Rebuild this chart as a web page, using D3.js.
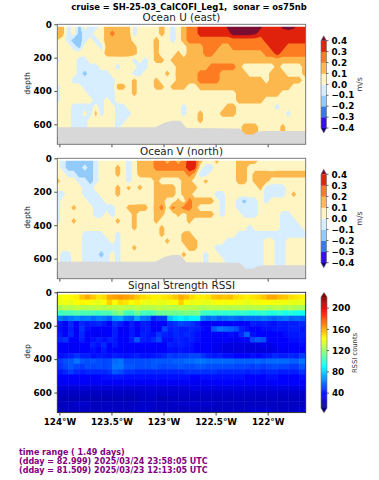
<!DOCTYPE html>
<html><head><meta charset="utf-8">
<script src="https://cdn.jsdelivr.net/npm/d3@7"></script>
<style>html,body{margin:0;padding:0;background:#fff}svg{display:block}text{font-family:"DejaVu Sans",sans-serif}</style>
</head><body><svg id="c" width="379" height="480"></svg>
<script>
const figureTitle = "cruise = SH-25-03_CalCOFI_Leg1,  sonar = os75nb";
const panelTitles = ["Ocean U (east)", "Ocean V (north)", "Signal Strength RSSI"];
const depthLabels = ["depth", "depth", "dep"];
const footer = ["time range ( 1.49 days)", "(dday = 82.999) 2025/03/24 23:58:05 UTC", "(dday = 81.509) 2025/03/23 12:13:05 UTC"];
const lonTicks = [-124, -123.5, -123, -122.5, -122];
const lonTickLabels = ["124°W", "123.5°W", "123°W", "122.5°W", "122°W"];
const depthTicks = [0, 200, 400, 600];
const velTicks = [0.4, 0.3, 0.2, 0.1, 0, -0.1, -0.2, -0.3, -0.4];
const rssiTicks = [200, 160, 120, 80, 40];
const velLevels = [-40, -30, -20, -10, 0, 10, 20, 30, 40];
const velColors = ["#14007f", "#3a0ef0", "#3a78f2", "#92caf9", "#d6eeff", "#fff5c2", "#fdb84e", "#fd7b22", "#e0240f", "#7a0a30"];
const lonStart = -124.02, lonStep = 0.0528, lonCount = 46;
const velDepths = [15,55,95,135,175,215,255,295,335,375,415,455,495,535,575,615,655];
const bathyLon = [-124.02,-123.08,-122.99,-122.92,-122.84,-122.78,-122.27,-122.21,-122.14,-122.10,-122.03,-121.62];
const bathyDepth = [618,618,590,578,578,622,625,661,661,645,640,640];
const oceanU = [
[15,14,-5,5,-14,5,-5,-5,5,15, 15,14,14,14,-5,5,5,5,5,15, 5,-5,5,15,25,25,35,35,35,35, 35,42,45,45,45,45,45,42,35,35, 35,42,45,42,35,35],
[15,14,-5,5,-15,-5,-5,5,5,15, 25,15,15,15,-5,5,5,5,5,15, 5,-5,5,15,25,25,35,35,35,35, 35,35,45,45,45,45,42,35,35,35, 35,35,35,35,35,35],
[10,5,-5,-15,-15,-5,5,-5,5,15, 15,15,15,15,5,5,5,5,15,5, 5,-5,5,15,25,25,25,25,25,25, 25,25,25,25,25,25,25,25,35,35, 35,35,35,35,35,35],
[5,5,5,-5,-14,5,5,5,-5,14, 15,15,15,15,14,5,5,5,15,5, 5,5,5,5,15,15,15,25,25,25, 15,15,25,25,25,25,25,25,25,35, 35,35,25,25,25,25],
[5,5,5,5,5,5,5,5,5,14, 14,15,15,14,15,5,5,5,14,5, 5,5,14,5,15,15,15,25,25,15, 15,15,15,15,15,15,15,15,25,25, 35,25,25,25,25,25],
[-5,5,5,5,-5,-5,5,5,5,5, 5,5,5,5,-5,5,-5,5,14,14, 5,14,14,14,15,15,15,15,15,15, 15,15,15,15,15,15,15,15,15,15, 15,15,15,15,15,15],
[5,5,5,5,-5,-5,-5,-5,5,5, 5,-5,5,5,5,-5,-5,5,5,5, 5,5,14,15,15,15,15,15,25,25, 25,25,25,15,5,5,5,5,5,5, 15,5,5,5,5,15],
[5,5,5,5,-5,-14,-5,-5,-5,-5, 5,5,5,5,-5,-5,5,5,5,5, 14,5,15,15,15,15,25,25,25,25, 15,15,15,15,15,5,5,5,5,15, 15,15,5,5,5,15],
[5,5,5,-5,-5,-5,-5,-5,-5,-5, -5,5,5,5,14,5,5,5,14,5, 5,5,14,15,15,15,25,25,25,25, 15,15,15,15,15,15,15,15,5,15, 15,15,15,15,15,5],
[-5,5,5,5,5,-5,-5,-5,-5,-5, -5,14,14,5,14,5,5,5,14,14, 5,14,14,14,5,5,15,15,15,15, 15,15,15,15,15,15,15,15,15,15, 15,15,15,5,5,5],
[-5,5,5,5,5,5,-5,-5,-5,-5, -5,5,5,5,14,5,5,5,5,5, 5,5,5,5,5,5,5,5,5,5, 5,5,5,15,15,15,15,15,15,15, 15,5,5,5,5,5],
[-5,5,5,5,5,5,5,-5,-5,5, -5,5,5,5,5,5,5,5,5,5, 5,5,5,5,5,5,5,5,5,5, 5,5,5,15,15,15,15,15,5,5, 5,5,5,5,5,5],
[5,5,5,-5,-5,-5,-5,5,-5,5, 5,-5,-5,5,5,5,5,5,5,5, 5,5,5,-5,5,5,5,5,5,5, 5,15,15,5,5,5,5,5,5,5, -5,5,5,5,5,5],
[5,5,5,-5,-5,5,-5,14,-5,5, 5,-5,-5,-5,5,5,5,5,5,5, 5,5,5,-5,5,5,15,5,5,5, 15,15,15,5,5,5,5,5,5,5, 5,5,-5,5,5,5],
[5,5,5,-5,-5,-5,5,5,5,5, 5,-5,-5,5,5,5,5,5,5,5, 5,5,5,5,5,5,15,5,5,5, 5,5,5,5,5,5,5,5,5,5, 5,5,5,5,5,5],
[5,5,5,-5,-5,-5,5,5,5,5, 5,-5,5,5,5,5,5,5,5,5, 5,5,5,5,5,5,5,5,5,5, 5,5,5,5,15,15,15,5,5,5, 5,14,5,5,5,5],
[5,5,5,-5,-5,-5,5,5,5,5, 5,-5,5,5,5,5,5,5,5,5, 5,5,5,5,5,5,5,5,5,5, 5,5,5,5,15,15,15,5,5,5, 5,14,5,5,5,5]];
const oceanV = [
[5,-5,-14,-15,-15,-15,-15,-5,5,5, 5,5,5,-5,5,15,15,15,25,25, 15,25,15,25,35,35,15,5,5,14, 5,5,5,15,15,15,14,5,5,5, 5,5,5,5,5,5],
[5,-5,-15,-15,-15,-5,-15,-5,5,5, 5,14,5,-5,5,15,15,15,25,25, 25,25,25,25,38,35,5,-5,-5,5, 5,5,5,15,15,5,5,5,5,5, 5,5,5,5,5,5],
[5,5,-5,-5,-15,-15,-15,-5,5,5, 5,14,5,-5,5,14,15,15,15,15, 15,15,15,15,25,15,-5,-5,5,5, 5,5,5,15,15,5,15,15,15,14, 15,15,15,15,15,15],
[15,5,5,5,-5,-5,-15,-5,5,5, 5,5,5,-5,5,5,5,5,14,5, 5,5,5,14,14,5,5,14,5,5, 5,5,5,15,15,5,15,15,15,5, 5,5,5,5,5,5],
[5,5,5,5,5,-5,-5,5,5,5, 5,14,5,14,5,14,5,5,14,14, 15,15,5,15,15,15,5,5,5,5, 5,5,5,5,5,5,5,15,-5,-5, -5,-5,5,5,5,5],
[-5,-5,5,5,5,-5,-5,-5,5,5, 5,14,5,5,5,5,5,5,14,14, 15,15,5,14,15,5,5,5,5,-5, -5,5,5,5,5,5,5,5,-5,-5, -5,-5,5,14,5,5],
[-5,5,5,5,5,5,-5,-5,-5,5, 5,5,5,5,5,5,5,5,14,15, 5,5,14,5,25,15,15,15,15,5, -5,5,5,-5,-14,-5,-5,5,-5,5, 5,5,5,5,5,5],
[-5,5,5,14,5,5,5,-5,-5,-5, -5,5,5,14,14,15,15,5,15,25, 5,25,15,25,25,15,5,5,5,5, -5,5,5,-5,-5,-5,-5,5,5,5, 5,5,5,5,5,5],
[-5,5,5,5,5,5,5,-5,-5,5, -5,5,5,5,14,5,5,5,14,14, 5,5,14,5,15,15,15,15,15,5, -5,5,5,5,-5,-5,-5,5,5,5, 5,-5,-5,5,5,5],
[-5,5,5,14,5,5,5,5,5,5, 5,14,5,5,14,5,5,5,14,5, 5,5,5,5,14,5,5,5,5,5, 5,5,5,5,5,5,5,5,5,5, 5,-5,-5,-5,5,5],
[5,5,5,5,5,5,5,5,5,5, 5,5,5,5,14,5,5,5,5,14, 5,5,5,5,5,5,5,5,5,5, 5,5,5,5,5,-5,5,5,5,5, 5,-5,-5,-5,-5,5],
[5,5,5,5,5,-5,-5,-5,-5,5, 5,-5,5,5,5,5,5,5,5,14, 5,5,5,14,15,5,5,5,5,5, 5,5,5,-5,-5,-5,-5,-5,-5,-5, -5,-5,-5,-5,-5,-5],
[5,5,5,5,5,-5,-5,-5,-5,-5, 5,-5,5,5,5,5,5,5,5,5, 14,5,5,14,15,15,5,5,5,5, 5,-5,-5,-5,-5,-5,-5,-5,5,5, -5,-5,5,5,5,5],
[5,5,5,5,5,-5,-5,-5,-5,-5, -5,-5,5,5,14,5,5,5,5,5, 5,5,5,5,15,14,5,5,5,-5, -5,-5,-5,-5,-5,-5,-5,-5,5,5, -5,-5,5,5,5,5],
[5,-5,-5,5,5,-5,-5,-5,-15,-5, 5,-5,5,5,5,5,5,5,5,5, 5,5,5,14,5,5,5,-5,5,5, -5,-5,-5,-5,-5,-5,-5,-5,5,5, -5,-5,5,5,5,5],
[5,-5,-5,5,5,-5,-5,-5,-5,-5, 5,-5,5,5,5,5,5,5,5,5, 5,5,5,5,5,5,5,-5,5,5, 5,-5,-5,-5,-5,-5,-5,-5,5,5, -5,-5,5,5,5,5],
[5,-5,-5,5,5,-5,-5,-5,-5,-5, 5,-5,5,5,5,5,5,5,5,5, 5,5,5,5,5,5,5,-5,5,5, 5,-5,-5,-5,-5,-5,-5,-5,5,5, -5,-5,5,5,5,5]];
const rssiDepths = [16,48,80,112,144,176,208,240,272,304,336,368,400,432,464,496,528,560,592,624,656,688];
const rssi = [
[140,142,144,146,154,160,154,148,150,160,162,164,162,160,154,150,148,146,146,148,150,154,160,156,150,146,146,148,154,156,154,156,150,148,146,148,150,154,160,160,156,154,150,148,146,144],
[138,140,138,142,144,142,140,138,142,152,142,150,148,142,146,140,138,140,138,138,140,142,152,142,138,140,138,138,140,142,140,142,140,140,138,140,140,142,142,140,140,140,138,138,138,135],
[125,128,127,130,128,127,128,130,127,130,128,130,128,127,130,128,127,128,130,127,128,127,130,128,128,127,125,127,128,127,128,127,127,128,127,127,128,127,125,127,128,125,127,125,125,122],
[103,106,105,108,105,106,105,103,106,105,113,118,105,103,113,105,103,106,112,112,114,112,114,116,114,116,103,101,100,101,99,101,99,101,100,97,99,101,97,97,99,95,97,95,93,93],
[64,60,62,66,62,64,60,64,62,58,70,72,62,60,72,62,60,46,50,50,78,85,88,85,88,88,64,60,62,58,60,62,60,58,60,60,60,62,60,58,60,62,58,60,58,60],
[42,34,46,36,46,42,44,46,42,36,48,44,38,44,38,44,42,34,36,38,46,48,52,50,48,44,36,34,34,36,34,34,36,34,38,44,42,44,42,40,44,42,44,44,46,46],
[40,34,44,36,48,40,36,38,36,38,44,34,34,42,34,42,44,34,36,52,44,46,44,44,46,44,40,38,56,62,60,58,54,44,40,38,38,40,40,42,42,42,44,44,42,46],
[42,36,46,36,46,38,34,34,34,36,44,34,38,42,36,44,42,40,48,44,42,46,44,46,44,40,38,36,38,38,38,40,38,46,58,40,38,36,38,38,38,40,42,42,44,44],
[46,48,38,36,44,38,40,44,40,44,42,36,38,44,56,44,42,46,52,40,40,44,44,42,44,40,36,36,34,34,36,34,32,34,38,52,56,54,36,36,36,38,40,40,42,40],
[36,36,34,33,38,38,44,40,46,38,42,38,38,38,38,38,36,38,36,38,44,42,44,42,40,38,36,34,33,32,30,29,29,30,29,29,29,32,30,32,36,36,38,38,40,38],
[36,34,33,34,36,36,40,38,42,36,38,34,34,36,34,34,33,34,34,36,40,40,42,40,40,38,34,34,33,31,29,29,28,29,28,28,28,29,29,31,33,33,36,36,38,36],
[40,42,44,48,44,44,40,42,42,40,44,42,40,42,44,40,40,42,44,46,50,48,50,50,52,52,48,44,42,44,40,40,38,38,38,40,38,40,42,46,44,44,46,44,50,48],
[50,54,56,62,56,54,56,54,52,54,60,62,54,54,54,54,54,56,56,56,56,58,58,60,60,62,62,60,60,60,60,60,58,58,58,58,60,58,60,60,60,60,58,58,62,60],
[48,52,56,52,50,54,52,54,52,54,62,62,56,56,54,54,54,56,54,52,54,54,56,54,54,56,56,54,54,54,54,54,52,52,52,50,52,50,52,54,52,52,50,50,56,54],
[42,46,50,46,44,46,46,46,46,48,56,54,48,48,46,46,46,46,46,46,46,46,46,48,48,48,48,48,48,46,46,46,46,46,44,46,46,44,46,46,44,44,44,44,48,46],
[38,38,38,38,38,38,38,38,40,40,42,42,40,40,40,40,40,40,40,40,40,40,40,40,38,38,40,40,40,40,40,40,40,40,38,38,38,38,40,40,38,38,38,38,40,40],
[34,34,34,34,34,34,34,34,34,34,34,34,34,34,34,34,34,34,34,34,34,34,34,34,34,32,34,34,36,36,36,36,34,34,36,36,34,34,34,36,36,36,36,36,36,36],
[28,28,28,28,28,28,28,28,28,28,28,28,28,28,28,28,28,28,28,28,28,28,28,28,30,30,30,30,30,30,30,30,30,30,30,30,30,30,30,30,30,30,30,30,32,32],
[24,24,24,24,24,24,24,24,24,24,24,24,24,24,24,26,26,26,26,26,26,26,26,26,26,26,26,26,26,26,26,26,26,26,26,26,26,26,26,26,26,26,26,26,26,26],
[22,22,22,22,22,22,22,22,22,22,22,22,22,22,22,24,24,24,22,22,24,24,24,24,24,24,24,24,24,24,24,24,24,24,24,24,24,24,24,24,24,24,24,24,24,24],
[22,24,24,26,26,26,24,24,24,24,24,24,24,24,24,26,26,26,24,24,24,26,26,26,26,26,26,26,26,24,24,24,24,24,24,24,24,24,24,24,24,24,24,24,24,26],
[24,24,24,24,24,24,24,24,24,24,24,24,24,24,26,26,26,24,24,24,24,24,24,24,24,24,24,24,24,24,24,24,24,24,24,26,26,26,26,24,24,24,24,26,26,26]];

const svg = d3.select("#c");
const L = 57.3, R = 305.7;
const panels = [{top:24.3,bot:144.3},{top:158.3,bot:278.7},{top:292.3,bot:412.6}];
const x = d3.scaleLinear().domain([-124.02,-121.635]).range([L,R]);
const defs = svg.append("defs");
defs.append("filter").attr("id","soft").attr("x","-5%").attr("y","-5%").attr("width","110%").attr("height","110%")
  .append("feGaussianBlur").attr("stdDeviation",0.55);
const ink = "#000", spine = "#6e6e6e";

panels.forEach((p,i)=>{
  p.y = d3.scaleLinear().domain([0,720]).range([p.top,p.bot]);
  const y0 = i==2 ? p.top+2 : p.y(15);
  defs.append("clipPath").attr("id","clip"+i).append("rect").attr("x",L).attr("y",y0).attr("width",R-L).attr("height",p.bot-y0);
  p.g = svg.append("g").attr("clip-path",`url(#clip${i})`);
  p.marks = p.g.append("g").attr("filter","url(#soft)");
});

function contourPanel(p, grid){
  const nx = lonCount, ny = velDepths.length;
  const gx = d3.scaleLinear().domain([0.5,nx-0.5]).range([lonStart,lonStart+lonStep*(nx-1)]);
  const gy = d3.scaleLinear().domain([0.5,ny-0.5]).range([velDepths[0],velDepths[ny-1]]);
  const path = d3.geoPath(d3.geoTransform({point(a,b){this.stream.point(x(gx(a)),p.y(gy(b)));}}));
  const flat = grid.flatMap(row=>d3.range(nx).map(i=>row[Math.min(i,row.length-1)]));
  p.marks.append("rect").attr("x",L-4).attr("y",p.top-4).attr("width",R-L+8).attr("height",p.bot-p.top+8).attr("fill",velColors[0]);
  d3.contours().size([nx,ny]).thresholds(velLevels)(flat).forEach((c,k)=>{
    p.marks.append("path").attr("d",path(c)).attr("fill",velColors[k+1]);
  });
  const area = d3.area().x((d,i)=>x(bathyLon[i])).y0(p.bot+4).y1(d=>p.y(d));
  p.marks.append("path").attr("d",area(bathyDepth)).attr("fill","#d8d8d8");
}
contourPanel(panels[0],oceanU);
contourPanel(panels[1],oceanV);

const jet = d3.scaleLinear().domain([0,.11,.125,.375,.625,.875,1]).range(["#00007f","#0000ff","#0000ff","#00ffff","#ffff00","#ff0000","#7f0000"]);
const rssiNorm = d3.scaleLinear().domain([12,221]).range([0,1]);
const rssiColor = v=>jet(rssiNorm(v));
const pr = panels[2];
const cw = x(lonStart+lonStep)-x(lonStart), rh = pr.y(rssiDepths[1])-pr.y(rssiDepths[0]);
rssi.forEach((row,r)=>row.forEach((v,c)=>{
  pr.marks.append("rect").attr("x",x(lonStart+lonStep*c)).attr("y",pr.y(rssiDepths[r]-16)+2).attr("width",cw+.5).attr("height",rh+.5).attr("fill",rssiColor(v));
}));

panels.forEach((p,i)=>{
  const ay = svg.append("g").attr("transform",`translate(${L},0)`).call(d3.axisLeft(p.y).tickValues(depthTicks).tickSize(3).tickPadding(2.5));
  const ax = svg.append("g").attr("transform",`translate(0,${p.bot})`).call(d3.axisBottom(x).tickValues(lonTicks).tickSize(3).tickPadding(3).tickFormat(i==2?((d,j)=>lonTickLabels[j]):""));
  [ax,ay].forEach(a=>{a.select(".domain").remove();a.selectAll("line").attr("stroke",ink).attr("stroke-width",.7);
    a.selectAll("text").attr("font-size",8.8).attr("font-weight","bold").attr("fill",ink).style("font-family",'"DejaVu Sans"');});
  svg.append("rect").attr("x",L).attr("y",p.top).attr("width",R-L).attr("height",p.bot-p.top).attr("fill","none").attr("stroke",i==2?"#222":spine).attr("stroke-width",.9);
  svg.append("text").attr("x",(L+R)/2).attr("y",p.top-3).attr("text-anchor","middle").attr("font-size",10.4).attr("fill","#222").text(panelTitles[i]);
  svg.append("text").attr("transform",`translate(30,${(p.top+p.bot)/2-1}) rotate(-90)`).attr("text-anchor","middle").attr("font-size",7.8).attr("fill","#222").text(depthLabels[i]);
});
svg.append("text").attr("x",189).attr("y",9.5).attr("text-anchor","middle").attr("font-size",8.4).attr("font-weight","bold").style("white-space","pre").text(figureTitle);

function velBar(top, bot){
  const cy = d3.scaleLinear().domain([0.4,-0.4]).range([top,bot]);
  const w0=321,w1=326.5, step=cy(-0.1)-cy(0), tip=step*.45;
  velLevels.slice(0,-1).forEach((lv,k)=>{
    svg.append("rect").attr("x",w0).attr("width",w1-w0).attr("y",cy((lv+10)/100)).attr("height",cy(lv/100)-cy((lv+10)/100)+.3).attr("fill",velColors[k+1]);
  });
  svg.append("path").attr("d",`M${w0},${top}L${(w0+w1)/2},${top-tip}L${w1},${top}Z`).attr("fill",velColors[9]);
  svg.append("path").attr("d",`M${w0},${bot}L${(w0+w1)/2},${bot+tip}L${w1},${bot}Z`).attr("fill",velColors[0]);
  svg.append("path").attr("d",`M${w0},${top}L${(w0+w1)/2},${top-tip}L${w1},${top}L${w1},${bot}L${(w0+w1)/2},${bot+tip}L${w0},${bot}Z`).attr("fill","none").attr("stroke",spine).attr("stroke-width",.6);
  velTicks.forEach(t=>{
    svg.append("line").attr("x1",w1).attr("x2",w1+2).attr("y1",cy(t)).attr("y2",cy(t)).attr("stroke",ink).attr("stroke-width",.6);
    svg.append("text").attr("x",331.5).attr("y",cy(t)+3.2).attr("font-size",8.8).attr("font-weight","bold").text(d3.format(".1f")(t).replace("-","−"));
  });
  svg.append("text").attr("transform",`translate(362,${(top+bot)/2}) rotate(-90)`).attr("text-anchor","middle").attr("font-size",7.8).attr("fill","#333").text("m/s");
}
velBar(40.7,128);
velBar(174.3,262.7);

const rb = d3.scaleLinear().domain([221,12]).range([297,408]);
const w0=321,w1=327;
d3.range(12,221,1).forEach(v=>{
  svg.append("rect").attr("x",w0).attr("width",w1-w0).attr("y",rb(v+1)).attr("height",rb(v)-rb(v+1)+.3).attr("fill",rssiColor(v));
});
svg.append("path").attr("d",`M${w0},297L${(w0+w1)/2},292.5L${w1},297Z`).attr("fill","#7f0000");
svg.append("path").attr("d",`M${w0},408L${(w0+w1)/2},412.8L${w1},408Z`).attr("fill","#00007f");
svg.append("path").attr("d",`M${w0},297L${(w0+w1)/2},292.5L${w1},297L${w1},408L${(w0+w1)/2},412.8L${w0},408Z`).attr("fill","none").attr("stroke",spine).attr("stroke-width",.6);
rssiTicks.forEach(t=>{
  svg.append("line").attr("x1",w1).attr("x2",w1+2).attr("y1",rb(t)).attr("y2",rb(t)).attr("stroke",ink).attr("stroke-width",.6);
  svg.append("text").attr("x",332).attr("y",rb(t)+3.2).attr("font-size",8.8).attr("font-weight","bold").text(t);
});
svg.append("text").attr("transform",`translate(357,353) rotate(-90)`).attr("text-anchor","middle").attr("font-size",6.8).attr("fill","#333").text("RSSI counts");

footer.forEach((t,i)=>svg.append("text").attr("x",19).attr("y",[455,464,473][i]).attr("font-size",8).attr("font-weight","bold").attr("fill","#800080").text(t));
</script></body></html>
